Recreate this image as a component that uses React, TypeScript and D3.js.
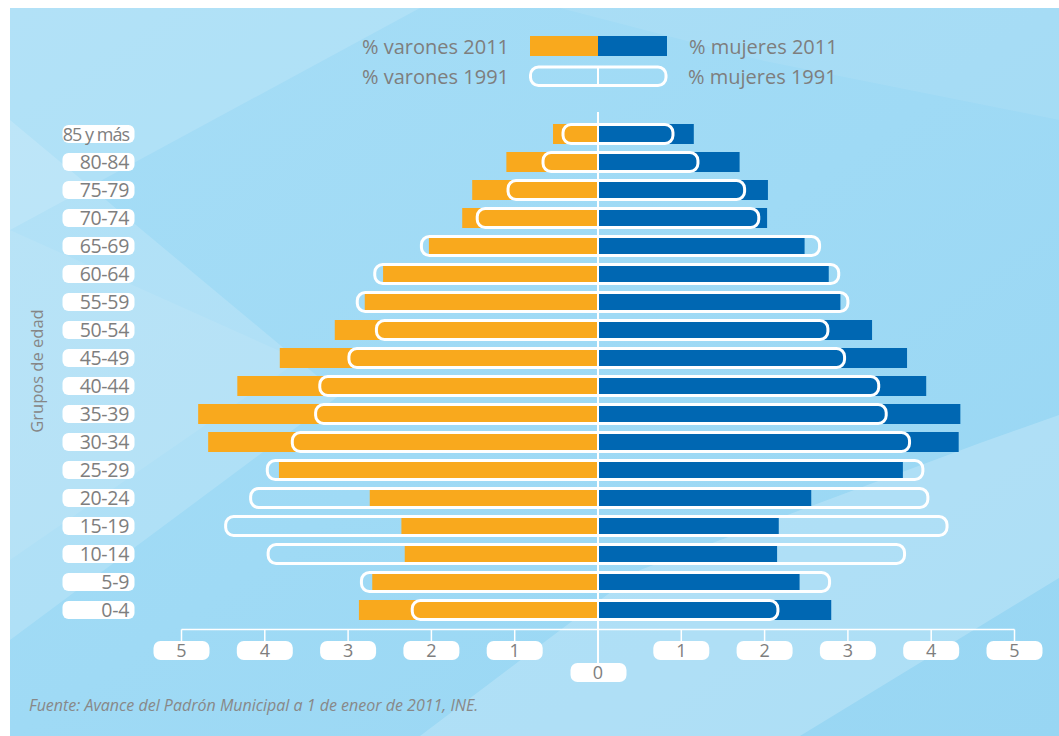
import React from "react";
import * as d3 from "d3";

const ageGroups = ["85 y más","80-84","75-79","70-74","65-69","60-64","55-59","50-54","45-49","40-44","35-39","30-34","25-29","20-24","15-19","10-14","5-9","0-4"];
const varones2011 = [0.54,1.10,1.51,1.63,2.03,2.58,2.80,3.16,3.82,4.33,4.80,4.68,3.83,2.74,2.36,2.32,2.71,2.87];
const mujeres2011 = [1.15,1.70,2.04,2.03,2.48,2.77,2.91,3.29,3.71,3.94,4.35,4.33,3.66,2.56,2.17,2.15,2.42,2.80];
const varones1991 = [0.42,0.66,1.08,1.45,2.12,2.68,2.89,2.66,2.99,3.34,3.39,3.67,3.97,4.17,4.47,3.96,2.84,2.23];
const mujeres1991 = [0.90,1.20,1.76,1.93,2.66,2.89,3.00,2.76,2.96,3.37,3.46,3.74,3.90,3.96,4.19,3.68,2.78,2.16];
const tickValues = [-5,-4,-3,-2,-1,1,2,3,4,5];

const W = 1059, H = 736;
const ORANGE = "#f9a91d";
const BLUE = "#0067b2";
const GRAY = "#7e7e7e";
const FONT = "'Open Sans', 'Noto Sans', sans-serif";

export default function App() {
  const x = d3.scaleLinear().domain([-5, 5]).range([181.5, 1014.5]);
  const y = d3.scalePoint<string>().domain(ageGroups).range([134, 610]);
  const barH = 20;
  const olH = 19;
  const x0 = x(0);

  return (
    <svg width={W} height={H} style={{ position: "absolute", left: 0, top: 0 }} fontFamily={FONT}>
      <defs>
        <linearGradient id="bg" x1="0" y1="0" x2="1" y2="1">
          <stop offset="0" stopColor="#a6ddf6" />
          <stop offset="0.5" stopColor="#9fdaf5" />
          <stop offset="1" stopColor="#98d6f3" />
        </linearGradient>
      </defs>
      <rect x={0} y={0} width={W} height={H} fill="#ffffff" />
      <rect x={10} y={8} width={W - 10} height={H - 8} fill="url(#bg)" />
      {/* soft light shapes */}
      <polygon points="10,8 420,8 10,230" fill="#ffffff" opacity={0.14} />
      <polygon points="10,120 340,395 10,640" fill="#ffffff" opacity={0.16} />
      <polygon points="10,230 300,360 10,560" fill="#ffffff" opacity={0.08} />
      <polygon points="420,736 640,570 980,443 1059,415 1059,578 800,736" fill="#ffffff" opacity={0.2} />
      <polygon points="560,8 1059,8 1059,120 760,60" fill="#ffffff" opacity={0.08} />

      {/* Legend */}
      <g fontSize={20} fill={GRAY}>
        <text x={362} y={54}>% varones 2011</text>
        <text x={362} y={84}>% varones 1991</text>
        <text x={689} y={54}>% mujeres  2011</text>
        <text x={688} y={84}>% mujeres 1991</text>
      </g>
      <rect x={530} y={36} width={68} height={20} fill={ORANGE} />
      <rect x={598} y={36} width={69} height={20} fill={BLUE} />
      <rect x={530.5} y={67} width={135.5} height={18.5} rx={8} fill="none" stroke="#fff" strokeWidth={3} />
      <line x1={598} x2={598} y1={67} y2={85.5} stroke="#fff" strokeWidth={2} />

      {/* 2011 bars */}
      {ageGroups.map((g, i) => (
        <g key={g}>
          <rect x={x(-varones2011[i])} y={(y(g) as number) - barH / 2} width={x0 - x(-varones2011[i])} height={barH} fill={ORANGE} />
          <rect x={x0} y={(y(g) as number) - barH / 2} width={x(mujeres2011[i]) - x0} height={barH} fill={BLUE} />
        </g>
      ))}
      {/* 1991 outlines */}
      {ageGroups.map((g, i) => (
        <rect key={"o" + g} x={x(-varones1991[i])} y={(y(g) as number) - olH / 2}
          width={x(mujeres1991[i]) - x(-varones1991[i])} height={olH} rx={8}
          fill="none" stroke="#fff" strokeWidth={3} />
      ))}

      {/* center line */}
      <line x1={x0} x2={x0} y1={112} y2={663} stroke="#fff" strokeWidth={2} />

      {/* Age labels */}
      {ageGroups.map((g) => (
        <g key={"l" + g}>
          <rect x={62.5} y={(y(g) as number) - 9} width={72} height={18} rx={6} fill="#fff" />
          <text x={129} y={(y(g) as number) + (g === "85 y más" ? 6.5 : 7)} textAnchor="end"
            fontSize={g === "85 y más" ? 18 : 19.5} fill={GRAY}
            letterSpacing={g === "85 y más" ? -1 : -0.3}>{g}</text>
        </g>
      ))}

      {/* X axis */}
      <line x1={x(-5)} x2={x(5)} y1={629.5} y2={629.5} stroke="#fff" strokeWidth={1.5} />
      {tickValues.map((t) => (
        <g key={"t" + t}>
          <line x1={x(t)} x2={x(t)} y1={629.5} y2={641} stroke="#fff" strokeWidth={1.5} />
          <rect x={x(t) - 28} y={641} width={56} height={19} rx={7} fill="#fff" />
          <text x={x(t)} y={657} textAnchor="middle" fontSize={18} fill={GRAY}>{Math.abs(t)}</text>
        </g>
      ))}
      <rect x={x0 - 27.5} y={663} width={56} height={19} rx={7} fill="#fff" />
      <text x={x0} y={679} textAnchor="middle" fontSize={18} fill={GRAY}>0</text>

      {/* Y title */}
      <text transform="translate(43,371) rotate(-90)" textAnchor="middle" fontSize={16.5} fill="#868686">Grupos de edad</text>

      {/* Source */}
      <text x={29} y={711} fontSize={16} fontStyle="italic" fill="#888888">Fuente: Avance del Padrón Municipal a 1 de eneor de 2011, INE.</text>
    </svg>
  );
}
